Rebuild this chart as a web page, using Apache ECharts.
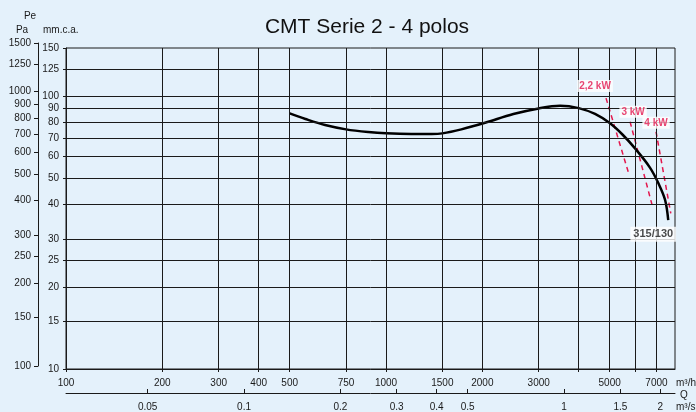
<!DOCTYPE html>
<html>
<head>
<meta charset="utf-8">
<script src="https://cdn.jsdelivr.net/npm/echarts@6/dist/echarts.min.js"></script>
<style>
  html, body { margin: 0; padding: 0; background: #e4f1fb; }
  #chart { width: 696px; height: 412px; }
</style>
</head>
<body>
<div id="chart"></div>
<script>
// curve 315/130 (Q in m3/h, Pe in Pa)
const flowM3h = [500, 560, 645, 750, 880, 1000, 1200, 1390, 1500, 1720, 2040, 2500, 3000, 3500, 4000, 4500, 5000, 5500, 6000, 6680, 7100, 7450, 7620]
const pressurePa = [864, 824, 783, 755, 738, 730, 726, 726, 730, 755, 798, 859, 901, 921, 903, 860, 796, 720, 643, 547, 479, 416, 351]
const curveName = '315/130'

// motor power limits (dashed), top and bottom end
const motorLabels = ['2,2 kW', '3 kW', '4 kW']
const motorFlowTop = [4870, 5790, 6980]
const motorPaTop = [983, 805, 740]
const motorFlowBottom = [5740, 6815, 7760]
const motorPaBottom = [518, 391, 372]

// axes ticks
const flowGrid = [200, 300, 400, 500, 750, 1000, 1500, 2000, 3000, 4000, 5000, 6000, 7000]
const flowTicks = [100, 200, 300, 400, 500, 750, 1000, 1500, 2000, 3000, 4000, 5000, 6000, 7000]
const flowLabels = [100, 200, 300, 400, 500, 750, 1000, 1500, 2000, 3000, 5000, 7000]
const flowM3sLabels = [0.05, 0.1, 0.2, 0.3, 0.4, 0.5, 1, 1.5, 2]
const mmTicks = [10, 15, 20, 25, 30, 40, 50, 60, 70, 80, 90, 100, 125, 150]
const mmGrid = [15, 20, 25, 30, 40, 50, 60, 70, 80, 90, 100, 125]
const paTicks = [100, 150, 200, 250, 300, 400, 500, 600, 700, 800, 900, 1000, 1250, 1500]

const FONT = "'Liberation Sans Narrow', 'Liberation Sans', Arial, sans-serif"
const INK = '#1a1a1a'
const RED = '#e3174d'

const fmt = v => String(Math.round(v * 1000) / 1000)
const axisText = { fontFamily: FONT, fontSize: 10, color: INK }

const chart = echarts.init(document.getElementById('chart'))

const motorSeries = motorLabels.map((name, i) => ({
  type: 'line',
  name,
  xAxisIndex: 0,
  yAxisIndex: 1,
  data: [[motorFlowTop[i], motorPaTop[i]], [motorFlowBottom[i], motorPaBottom[i]]],
  showSymbol: false,
  lineStyle: { color: RED, width: 1.5, type: [5, 4] },
  z: 3
}))

const labelOffsets = [[-11, -12], [3, -10], [0, -9]]
const labelData = motorLabels.map((name, i) => ({
  value: [motorFlowTop[i], motorPaTop[i]],
  label: { formatter: name, offset: labelOffsets[i], color: RED }
}))
labelData.push({
  value: [flowM3h[flowM3h.length - 1], pressurePa[pressurePa.length - 1]],
  label: { formatter: curveName, offset: [-15, 14], color: INK, fontSize: 11, padding: [2, 3] }
})

const option = {
  animation: false,
  backgroundColor: '#e4f1fb',
  grid: [
    { left: 66, right: 21, top: 48, bottom: 43, show: true, borderColor: INK, borderWidth: 1 },
    { left: 38, width: 1, top: 43, height: 323 }
  ],
  xAxis: [
    {
      gridIndex: 0, type: 'log', min: 100, max: 8000, position: 'bottom',
      axisLine: { show: true, lineStyle: { color: INK, width: 1 } },
      axisTick: { show: true, length: 3, customValues: flowTicks, lineStyle: { color: INK } },
      axisLabel: { ...axisText, customValues: flowLabels, margin: 9, formatter: fmt },
      splitLine: { show: false }
    },
    {
      gridIndex: 0, type: 'log', min: 100 / 3600, max: 8000 / 3600, position: 'bottom', offset: 24,
      axisLine: { show: true, lineStyle: { color: INK, width: 1 } },
      axisTick: { show: true, inside: true, length: 4, customValues: flowM3sLabels, lineStyle: { color: INK } },
      axisLabel: { ...axisText, customValues: flowM3sLabels, margin: 9, formatter: fmt },
      splitLine: { show: false }
    },
    { gridIndex: 1, type: 'value', show: false }
  ],
  yAxis: [
    {
      gridIndex: 0, type: 'log', min: 10, max: 150, position: 'left',
      axisLine: { show: true, lineStyle: { color: INK, width: 1 } },
      axisTick: { show: true, length: 3, customValues: mmTicks, lineStyle: { color: INK } },
      axisLabel: { ...axisText, customValues: mmTicks, margin: 7, formatter: fmt },
      splitLine: { show: false }
    },
    { gridIndex: 0, type: 'log', min: 100, max: 1500, show: false },
    {
      gridIndex: 1, type: 'log', min: 100, max: 1500, position: 'left',
      axisLine: { show: true, lineStyle: { color: INK, width: 1 } },
      axisTick: { show: true, length: 4, customValues: paTicks, lineStyle: { color: INK } },
      axisLabel: { ...axisText, customValues: paTicks, margin: 7, formatter: fmt },
      splitLine: { show: false }
    }
  ],
  graphic: [
    { type: 'text', x: 367, y: 27, style: { text: 'CMT Serie 2 - 4 polos', font: "21px 'Liberation Sans', Arial, sans-serif", fill: '#111', align: 'center', verticalAlign: 'middle' } },
    { type: 'text', x: 30, y: 16, style: { text: 'Pe', font: '10px ' + FONT, fill: INK, align: 'center', verticalAlign: 'middle' } },
    { type: 'text', x: 22, y: 30, style: { text: 'Pa', font: '10px ' + FONT, fill: INK, align: 'center', verticalAlign: 'middle' } },
    { type: 'text', x: 43, y: 30, style: { text: 'mm.c.a.', font: '10px ' + FONT, fill: INK, align: 'left', verticalAlign: 'middle' } },
    { type: 'text', x: 676, y: 383, style: { text: 'm³/h', font: '10px ' + FONT, fill: INK, align: 'left', verticalAlign: 'middle' } },
    { type: 'text', x: 684, y: 395, style: { text: 'Q', font: '10px ' + FONT, fill: INK, align: 'center', verticalAlign: 'middle' } },
    { type: 'text', x: 676, y: 407, style: { text: 'm³/s', font: '10px ' + FONT, fill: INK, align: 'left', verticalAlign: 'middle' } }
  ],
  series: [
    {
      type: 'line',
      xAxisIndex: 0,
      yAxisIndex: 0,
      data: [],
      z: 1,
      markLine: {
        silent: true,
        symbol: ['none', 'none'],
        label: { show: false },
        lineStyle: { color: INK, width: 1, type: 'solid' },
        emphasis: { disabled: true },
        data: [
          ...flowGrid.map(v => ({ xAxis: v })),
          ...mmGrid.map(v => ({ yAxis: v }))
        ]
      }
    },
    {
      type: 'line',
      name: curveName,
      xAxisIndex: 0,
      yAxisIndex: 1,
      data: flowM3h.map((q, i) => [q, pressurePa[i]]),
      smooth: 0.35,
      showSymbol: false,
      lineStyle: { color: '#000', width: 2.5 },
      z: 4
    },
    ...motorSeries,
    {
      type: 'scatter',
      xAxisIndex: 0,
      yAxisIndex: 1,
      symbolSize: 0,
      z: 6,
      data: labelData,
      label: {
        show: true,
        position: 'inside',
        fontFamily: FONT,
        fontSize: 10,
        fontWeight: 'bold',
        backgroundColor: '#fff',
        padding: [1, 2]
      }
    }
  ]
}

chart.setOption(option)
</script>
</body>
</html>
